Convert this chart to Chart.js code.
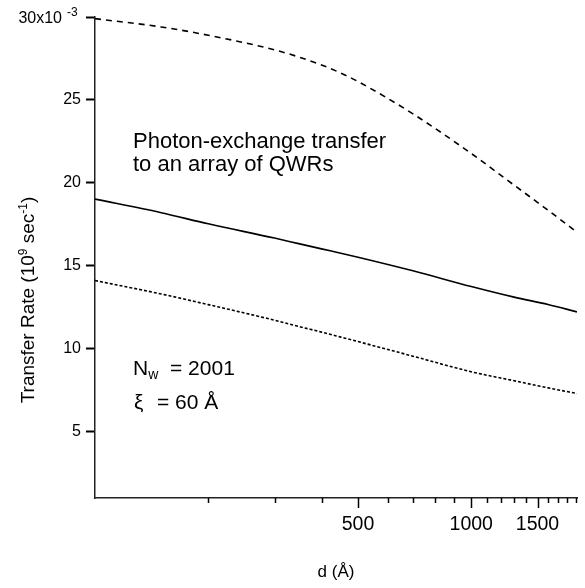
<!DOCTYPE html>
<html>
<head>
<meta charset="utf-8">
<script src="https://cdn.jsdelivr.net/npm/chart.js@4"></script>
<style>
  body { margin: 0; background: #fff; }
  canvas { display: block; }
</style>
</head>
<body>
<canvas id="rate-chart" width="585" height="588"></canvas>
<script>
var FONT = "'Liberation Sans', Arial, Helvetica, sans-serif";

// spacing d (Angstrom) and transfer rates (units of 1e-3 x 10^9 sec^-1)
var spacing = [100, 150, 200, 300, 350, 400, 450, 500, 700, 1000, 1300, 1600, 1910];
var rateUpper = [29.9, 29.4, 28.9, 28.02, 27.57, 27.11, 26.62, 26.11, 24.16, 21.77, 19.86, 18.35, 17.02];
var rateMiddle = [19.02, 18.2, 17.53, 16.67, 16.32, 16.02, 15.76, 15.52, 14.7, 13.75, 13.11, 12.67, 12.22];
var rateLower = [14.11, 13.3, 12.66, 11.72, 11.33, 11.0, 10.7, 10.43, 9.55, 8.61, 8.07, 7.64, 7.3];

var yTicks = [5, 10, 15, 20, 25, 30];
var xTicks = [200, 300, 400, 500, 600, 700, 800, 900, 1000, 1100, 1200, 1300, 1400, 1500, 1600, 1700, 1800, 1900];
var xLabels = [500, 1000, 1500];

function points(ys) {
    return spacing.map(function (d, i) { return { x: d, y: ys[i] }; });
}

function lineSet(label, ys, dash) {
    return {
        label: label,
        data: points(ys),
        borderColor: '#000',
        borderWidth: 1.6,
        borderDash: dash,
        pointRadius: 0,
        fill: false,
        cubicInterpolationMode: 'monotone'
    };
}

// draw a run of [text, fontSize, raise] pieces starting at x
function drawRuns(ctx, runs, x, y) {
    runs.forEach(function (r) {
        ctx.font = r[1] + 'px ' + FONT;
        ctx.fillText(r[0], x, y - r[2]);
        x += ctx.measureText(r[0]).width;
    });
    return x;
}

function runsWidth(ctx, runs) {
    var w = 0;
    runs.forEach(function (r) {
        ctx.font = r[1] + 'px ' + FONT;
        w += ctx.measureText(r[0]).width;
    });
    return w;
}

// log axis ticks: short ones every 100, long ones where labelled
var xTickMarks = {
    id: 'xTickMarks',
    afterDraw: function (chart) {
        var ctx = chart.ctx, x = chart.scales.x, bottom = chart.chartArea.bottom;
        ctx.save();
        ctx.strokeStyle = '#000';
        ctx.lineWidth = 1.5;
        xTicks.forEach(function (v) {
            var px = Math.round(x.getPixelForValue(v)) + 0.5;
            var len = xLabels.indexOf(v) >= 0 ? 10 : 5;
            ctx.beginPath();
            ctx.moveTo(px, bottom);
            ctx.lineTo(px, bottom + len);
            ctx.stroke();
        });
        ctx.restore();
    }
};

// text with sub/superscripts that the axes can't render themselves
var notes = {
    id: 'notes',
    afterDraw: function (chart) {
        var ctx = chart.ctx, y = chart.scales.y, left = chart.chartArea.left;
        ctx.save();
        ctx.fillStyle = '#000';
        ctx.textBaseline = 'alphabetic';
        ctx.textAlign = 'left';

        // top tick label 30x10^-3
        var py = y.getPixelForValue(30);
        ctx.font = '16px ' + FONT;
        ctx.textAlign = 'right';
        ctx.fillText('30x10', left - 33, py + 6);
        ctx.font = '12px ' + FONT;
        ctx.textAlign = 'left';
        ctx.fillText('-3', left - 28, py - 1);

        // y axis title
        var title = [['Transfer Rate (10', 19, 0], ['9', 12, 7], [' sec', 19, 0], ['-1', 12, 7], [')', 19, 0]];
        ctx.save();
        ctx.translate(34, 300);
        ctx.rotate(-Math.PI / 2);
        drawRuns(ctx, title, -runsWidth(ctx, title) / 2, 0);
        ctx.restore();

        ctx.font = '22px ' + FONT;
        ctx.fillText('Photon-exchange transfer', 133, 148);
        ctx.fillText('to an array of QWRs', 133, 171);

        drawRuns(ctx, [['N', 21, 0], ['w', 14, -4]], 133, 375);
        drawRuns(ctx, [['= 2001', 21, 0]], 170, 375);
        drawRuns(ctx, [['\u03BE', 21, 0]], 134, 409);
        drawRuns(ctx, [['= 60 \u00C5', 21, 0]], 157, 409);
        ctx.restore();
    }
};

var rateChart = new Chart(document.getElementById('rate-chart'), {
    type: 'line',
    data: {
        datasets: [
            lineSet('upper', rateUpper, [6, 5]),
            lineSet('middle', rateMiddle, []),
            lineSet('lower', rateLower, [3, 2])
        ]
    },
    options: {
        responsive: false,
        animation: false,
        layout: { padding: { top: 17, right: 8, left: 0, bottom: 0 } },
        plugins: { legend: { display: false }, tooltip: { enabled: false } },
        scales: {
            x: {
                type: 'logarithmic',
                min: 100,
                max: 1910,
                afterFit: function (s) {
                    s.height = 90;
                    s.paddingLeft = 0;
                    s.paddingRight = 0;
                },
                afterBuildTicks: function (s) {
                    s.ticks = xTicks.map(function (v) { return { value: v }; });
                },
                grid: { display: false, drawTicks: false },
                border: { display: true, color: '#222', width: 1.5 },
                ticks: {
                    autoSkip: false,
                    maxRotation: 0,
                    padding: 15,
                    color: '#000',
                    font: { family: FONT, size: 19.5 },
                    callback: function (v) { return xLabels.indexOf(v) >= 0 ? String(v) : ''; }
                },
                title: {
                    display: true,
                    text: 'd (\u00C5)',
                    color: '#000',
                    font: { family: FONT, size: 17 },
                    padding: { top: 0, bottom: 5 }
                }
            },
            y: {
                min: 1,
                max: 30,
                afterFit: function (s) { s.width = 95; },
                afterBuildTicks: function (s) {
                    s.ticks = yTicks.map(function (v) { return { value: v }; });
                },
                grid: {
                    drawOnChartArea: false,
                    drawTicks: true,
                    tickLength: 9,
                    tickWidth: 2,
                    tickColor: '#000'
                },
                border: { display: true, color: '#222', width: 1.5 },
                ticks: {
                    padding: 5,
                    color: '#000',
                    font: { family: FONT, size: 16 },
                    callback: function (v) { return v === 30 ? '' : String(v); }
                }
            }
        }
    },
    plugins: [xTickMarks, notes]
});
</script>
</body>
</html>
